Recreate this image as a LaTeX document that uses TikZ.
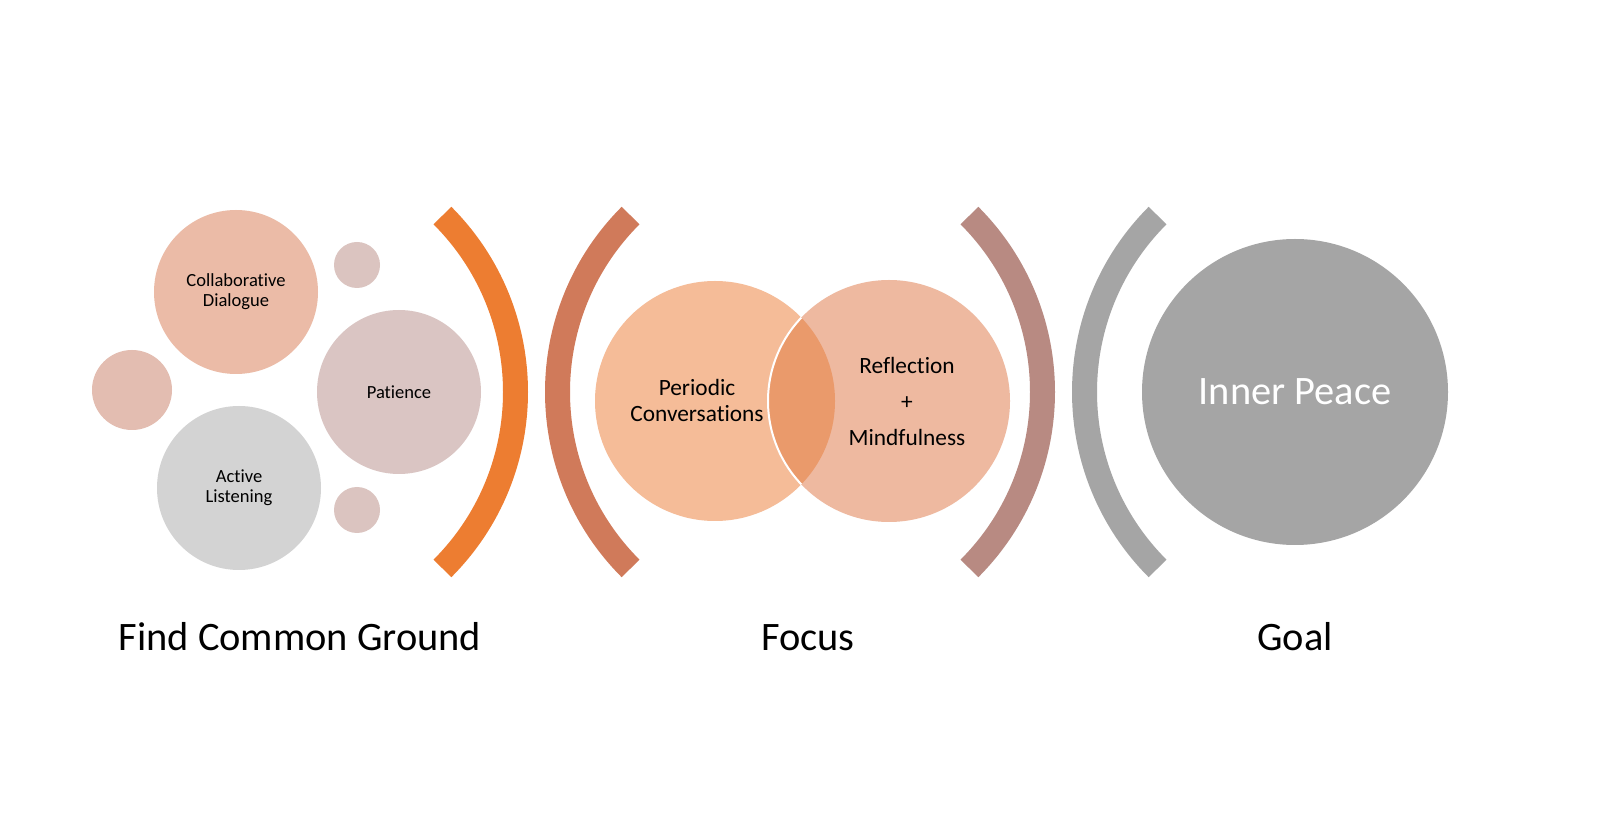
\documentclass[tikz,border=0pt]{standalone}
\usepackage{fontspec}
\setmainfont{Carlito}[Ligatures={NoCommon,NoContextual}]
\definecolor{collabC}{HTML}{EBBBA7}
\definecolor{leftsmallC}{HTML}{E3BDB1}
\definecolor{smallC}{HTML}{DBC4C0}
\definecolor{patienceC}{HTML}{DAC5C3}
\definecolor{activeC}{HTML}{D3D3D3}
\definecolor{orangeC}{HTML}{ED7D31}
\definecolor{coralC}{HTML}{D07A5A}
\definecolor{periodicC}{HTML}{F5BC98}
\definecolor{reflectC}{HTML}{EEB9A0}
\definecolor{lensC}{HTML}{EA9A6B}
\definecolor{mauveC}{HTML}{B88A82}
\definecolor{grayC}{HTML}{A5A5A5}
\tikzset{
  bubble/.style={circle, inner sep=0pt, align=center, font=\fontsize{13.9pt}{15pt}\selectfont},
  bracketarc/.style={line width=18.75pt, line cap=butt},
  steplabel/.style={anchor=base, font=\fontsize{30.3pt}{34pt}\selectfont},
  venntext/.style={align=center, font=\fontsize{17.5pt}{19.5pt}\selectfont}
}
\begin{document}
\begin{tikzpicture}[x=0.75pt,y=0.75pt]
\useasboundingbox (0,0) rectangle (1600,822);
\fill[white] (0,0) rectangle (1600,822);
% left cluster
\node[bubble, fill=collabC, minimum size=123pt] (collab) at (236,530) {Collaborative\\Dialogue};
\node[bubble, fill=leftsmallC, minimum size=60pt] (lsmall) at (132,432) {};
\node[bubble, fill=smallC, minimum size=34.5pt] (tsmall) at (357,557) {};
\node[bubble, fill=patienceC, minimum size=123pt] (patience) at (399,430) {Patience};
\node[bubble, fill=activeC, minimum size=123pt] (active) at (239,334) {Active\\Listening};
\node[bubble, fill=smallC, minimum size=34.5pt] (bsmall) at (357,312) {};
% brackets
\coordinate (oc1) at (266,430);
\coordinate (oc2) at (807,430);
\coordinate (oc3) at (793,430);
\coordinate (oc4) at (1334,430);
\draw[bracketarc, orangeC] (oc1) ++(-45:249.5) arc[start angle=-45, end angle=45, radius=249.5];
\draw[bracketarc, coralC] (oc2) ++(135:249.5) arc[start angle=135, end angle=225, radius=249.5];
\draw[bracketarc, mauveC] (oc3) ++(-45:249.5) arc[start angle=-45, end angle=45, radius=249.5];
\draw[bracketarc, grayC] (oc4) ++(135:249.5) arc[start angle=135, end angle=225, radius=249.5];
% venn
\coordinate (pc) at (715,421);
\coordinate (rc) at (889,421);
\fill[periodicC] (pc) circle[radius=120];
\fill[reflectC] (rc) circle[radius=121];
\begin{scope}
  \clip (pc) circle[radius=120];
  \fill[lensC] (rc) circle[radius=121];
  \draw[white, line width=1.5pt] (rc) circle[radius=121];
\end{scope}
\node[venntext] (periodic) at (697,422) {Periodic\\Conversations};
\node[venntext, font=\fontsize{17.5pt}{27pt}\selectfont] (reflect) at (907,421) {Reflection\\+\\Mindfulness};
% goal
\node[circle, inner sep=0pt, fill=grayC, minimum size=229.5pt, text=white, font=\fontsize{30.3pt}{34pt}\selectfont] (peace) at (1295,430) {Inner Peace};
% labels
\node[steplabel] (l1) at (300,172) {Find Common Ground};
\node[steplabel] (l2) at (808,172) {Focus};
\node[steplabel] (l3) at (1295,172) {Goal};
\end{tikzpicture}
\end{document}
